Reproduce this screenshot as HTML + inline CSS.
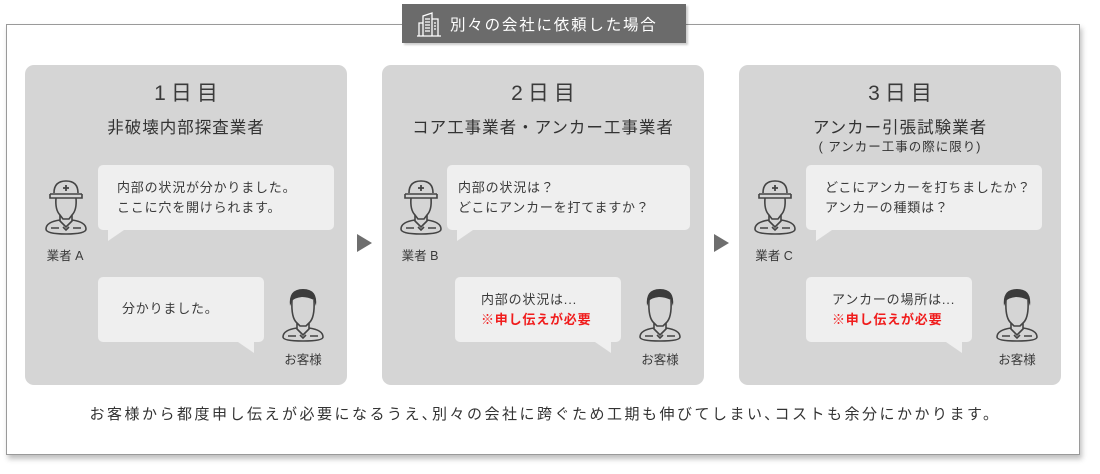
<!DOCTYPE html>
<html><head><meta charset="utf-8">
<style>
*{margin:0;padding:0;box-sizing:border-box}
body{width:1100px;height:474px;background:#fff;position:relative;overflow:hidden;font-family:"Liberation Sans","Noto Sans CJK JP",sans-serif;color:#3a3a3a}
.frame{position:absolute;left:6px;top:24px;width:1074px;height:431px;border:1px solid #9a9a9a;box-shadow:2px 4px 5px rgba(0,0,0,.25);background:#fff}
.tab{position:absolute;left:402px;top:4px;width:284px;height:39px;background:#6b6b6b;box-shadow:2px 2px 2px rgba(0,0,0,.2);color:#fff;font-size:15.5px;letter-spacing:1.8px}
.tab span{position:absolute;left:48px;top:9px}
.panel{position:absolute;top:65px;width:322px;height:320px;background:#d5d5d5;border-radius:9px}
.day{position:absolute;left:0;width:100%;text-align:center;font-size:21px;letter-spacing:5px;color:#3a3a3a;padding-left:5px}
.sub{position:absolute;left:0;width:100%;text-align:center;font-size:16.5px;letter-spacing:1px;color:#333}
.bub{position:absolute;background:#efefef;border-radius:5px;font-size:13px;line-height:20px;letter-spacing:.8px;color:#3a3a3a}
.tl{position:absolute;bottom:-11px;width:0;height:0;border-top:11px solid #efefef}
.lab{position:absolute;font-size:12.5px;color:#3a3a3a;text-align:center;width:60px}
.arr{position:absolute;top:234px;width:0;height:0;border-top:9px solid transparent;border-bottom:9px solid transparent;border-left:15px solid #6e6e6e}
.red{color:#f01c1c;font-weight:bold}
.ic{position:absolute}
.bottom{position:absolute;left:0;width:1090px;top:403px;text-align:center;font-size:15px;letter-spacing:2.5px;color:#333}
</style></head><body>
<svg width="0" height="0" style="position:absolute">
<defs>
<symbol id="worker" viewBox="0 0 46 58">
<g fill="none" stroke="#444" stroke-width="1.6">
<path d="M11 16 Q11 4 23 4 Q35 4 35 16"/>
<path d="M7 17 H39 M7 17 V21 H39 V17"/>
<path d="M13 21 Q12 33 17 38 L20 42 H26 L29 38 Q34 33 33 21"/>
<path d="M17 38 L17 44 L23 50 L29 44 L29 38"/>
<path d="M17 43 Q3 45 3 52 Q3 57 23 57 Q43 57 43 52 Q43 45 29 43"/>
<path d="M8 51 H16 M30 51 H38 M20 50 L23 53 L26 50"/>
</g>
<path d="M23 8 V14 M20 11 H26" stroke="#444" stroke-width="1.8"/>
</symbol>
<symbol id="cust" viewBox="0 0 46 56">
<path d="M10 20 Q8 3 23 3 Q38 3 36 20 L34 14 Q28 11 22 11 Q14 12 12 15 Z" fill="#3c3c3c"/>
<g fill="none" stroke="#444" stroke-width="1.6">
<path d="M12 14 Q11 32 17 37 L20 40 H26 L29 37 Q35 32 34 14"/>
<path d="M17 37 L17 43 L23 49 L29 43 L29 37"/>
<path d="M17 42 Q3 44 3 51 Q3 55 23 55 Q43 55 43 51 Q43 44 29 42"/>
<path d="M8 50 H16 M30 50 H38 M20 49 L23 52 L26 49"/>
</g>
</symbol>
</defs></svg>

<div class="frame"></div>
<div class="tab">
<svg style="position:absolute;left:14px;top:7px" width="26" height="26" viewBox="0 0 26 26" fill="none" stroke="#fff" stroke-width="1.3">
<path d="M1 25 H25"/><path d="M3 25 V12 H7"/><path d="M7 25 V5 L16 2 V25"/><path d="M16 8 H22 V25"/>
<path d="M9 8 H14 M9 11 H14 M9 14 H14 M9 17 H14 M9 20 H14 M18 12 H20 M18 15 H20 M18 18 H20"/>
</svg>
<span>別々の会社に依頼した場合</span></div>

<!-- panel 1 -->
<div class="panel" style="left:25px">
<div class="day" style="top:12px">1日目</div>
<div class="sub" style="top:49px">非破壊内部探査業者</div>
<div class="bub" style="left:73px;top:100px;width:236px;height:65px;padding:13px 0 0 19px">内部の状況が分かりました。<br>ここに穴を開けられます。<div class="tl" style="left:10px;border-right:16px solid transparent"></div></div>
<svg class="ic" style="left:18px;top:112px" width="46" height="58"><use href="#worker"/></svg>
<div class="lab" style="left:10px;top:180px">業者 A</div>
<div class="bub" style="left:73px;top:212px;width:166px;height:65px;padding:22px 0 0 24px">分かりました。<div class="tl" style="right:10px;border-left:16px solid transparent"></div></div>
<svg class="ic" style="left:255px;top:221px" width="46" height="56"><use href="#cust"/></svg>
<div class="lab" style="left:248px;top:284px">お客様</div>
</div>
<div class="arr" style="left:357px"></div>

<!-- panel 2 -->
<div class="panel" style="left:382px">
<div class="day" style="top:12px">2日目</div>
<div class="sub" style="top:49px">コア工事業者・アンカー工事業者</div>
<div class="bub" style="left:65px;top:100px;width:243px;height:65px;padding:13px 0 0 11px">内部の状況は？<br>どこにアンカーを打てますか？<div class="tl" style="left:10px;border-right:16px solid transparent"></div></div>
<svg class="ic" style="left:16px;top:112px" width="46" height="58"><use href="#worker"/></svg>
<div class="lab" style="left:8px;top:180px">業者 B</div>
<div class="bub" style="left:73px;top:212px;width:166px;height:65px;padding:13px 0 0 26px">内部の状況は...<br><span class="red">※申し伝えが必要</span><div class="tl" style="right:10px;border-left:16px solid transparent"></div></div>
<svg class="ic" style="left:255px;top:221px" width="46" height="56"><use href="#cust"/></svg>
<div class="lab" style="left:248px;top:284px">お客様</div>
</div>
<div class="arr" style="left:714px"></div>

<!-- panel 3 -->
<div class="panel" style="left:739px">
<div class="day" style="top:12px">3日目</div>
<div class="sub" style="top:49px">アンカー引張試験業者</div>
<div class="sub" style="top:71px;font-size:12.5px;letter-spacing:1px">( アンカー工事の際に限り)</div>
<div class="bub" style="left:67px;top:100px;width:236px;height:65px;padding:13px 0 0 19px">どこにアンカーを打ちましたか？<br>アンカーの種類は？<div class="tl" style="left:10px;border-right:16px solid transparent"></div></div>
<svg class="ic" style="left:13px;top:112px" width="46" height="58"><use href="#worker"/></svg>
<div class="lab" style="left:5px;top:180px">業者 C</div>
<div class="bub" style="left:67px;top:212px;width:166px;height:65px;padding:13px 0 0 26px">アンカーの場所は...<br><span class="red">※申し伝えが必要</span><div class="tl" style="right:10px;border-left:16px solid transparent"></div></div>
<svg class="ic" style="left:255px;top:221px" width="46" height="56"><use href="#cust"/></svg>
<div class="lab" style="left:248px;top:284px">お客様</div>
</div>

<div class="bottom">お客様から都度申し伝えが必要になるうえ､別々の会社に跨ぐため工期も伸びてしまい､コストも余分にかかります。</div>
</body></html>
